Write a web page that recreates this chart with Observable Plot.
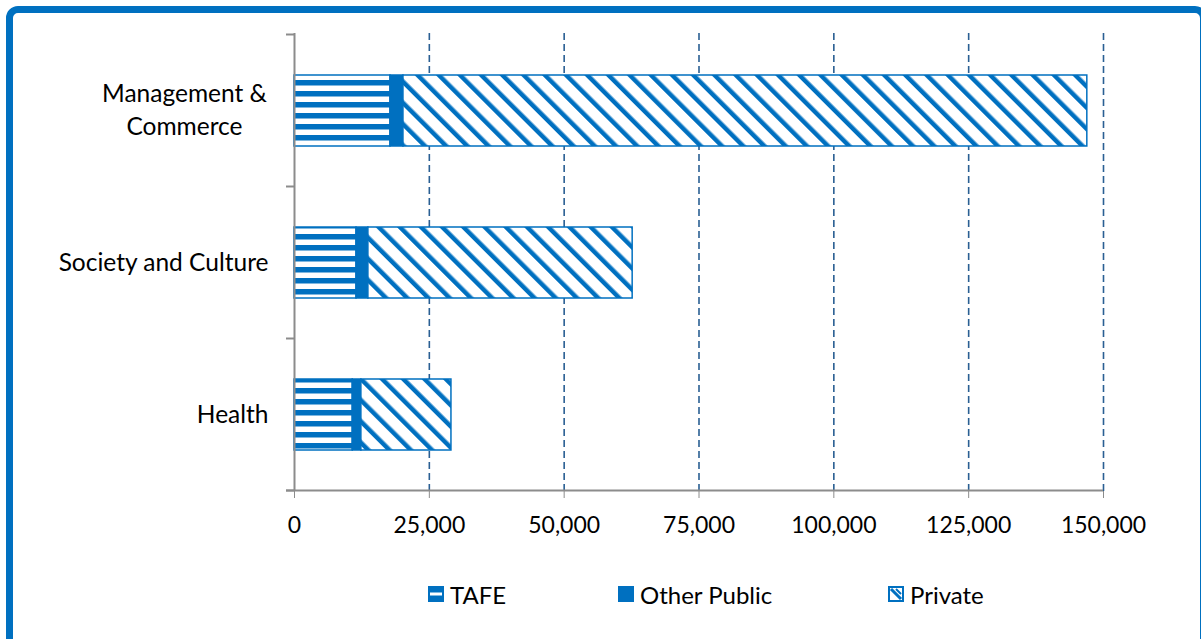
<!DOCTYPE html>
<html>
<head>
<meta charset="utf-8">
<script src="https://cdn.jsdelivr.net/npm/d3@7"></script>
<script src="https://cdn.jsdelivr.net/npm/@observablehq/plot@0.6"></script>
<style>
  html, body { margin: 0; padding: 0; background: #fff; overflow: hidden; }
  body { width: 1201px; height: 639px; position: relative; font-family: Lato, "Open Sans", sans-serif; }
  #frame { position: absolute; left: 6px; top: 6px; width: 1187px; height: 700px; border: 7px solid #0070C0; border-radius: 12px; box-sizing: content-box; }
  #chart { position: absolute; left: 0; top: 0; }
  #legend { position: absolute; left: 0; top: 577px; width: 1201px; height: 34px; font-size: 24px; color: #000; }
  .item { position: absolute; top: 0; display: flex; align-items: center; height: 34px; }
  .item svg { margin-right: 6px; }
</style>
</head>
<body>
<div id="frame"></div>
<div id="chart"></div>
<div id="legend"></div>
<script>
// ---- data ----
const categories = ["Management & Commerce", "Society and Culture", "Health"];
const series = ["TAFE", "Other Public", "Private"];
const tafe = [17800, 11500, 10800];
const otherPublic = [2400, 2200, 1600];
const privateProviders = [126800, 49000, 16700];
const xTicks = [0, 25000, 50000, 75000, 100000, 125000, 150000];

// ---- build table ----
const valuesBySeries = {"TAFE": tafe, "Other Public": otherPublic, "Private": privateProviders};
const table = [];
categories.forEach((c, i) => series.forEach(s => table.push({category: c, series: s, value: valuesBySeries[s][i]})));

const BLUE = "#0070C0";
const fills = {"TAFE": "url(#pTafe)", "Other Public": BLUE, "Private": "url(#pPriv)"};

const W = 1201, H = 560;
const mTop = 33, mBottom = H - 491, mLeft = 294, mRight = W - 1103;

const plot = Plot.plot({
  width: W,
  height: H,
  marginTop: mTop,
  marginBottom: mBottom,
  marginLeft: mLeft,
  marginRight: mRight,
  style: {fontFamily: "Lato, 'Open Sans', sans-serif", fontSize: "23px", background: "transparent", color: "#000"},
  x: {domain: [0, 150000], axis: null},
  y: {domain: categories, paddingInner: 0.535, paddingOuter: 0.2675, axis: null},
  color: {type: "identity"},
  marks: [
    Plot.ruleX(xTicks.filter(d => d > 0), {stroke: "#2a5f93", strokeWidth: 1.6, strokeDasharray: "7,4"}),
    Plot.barX(table, Plot.stackX({
      x: "value", y: "category", fill: d => fills[d.series],
      stroke: BLUE, strokeWidth: 1.5, order: series
    })),
    Plot.ruleX([0], {stroke: "#8c8c8c", strokeWidth: 2}),
    Plot.axisX({ticks: xTicks, tickFormat: d3.format(","), tickSize: 7, tickPadding: 18, stroke: "#8c8c8c", fill: "#000", fontSize: 23, anchor: "bottom", label: null}),
    Plot.text(categories.filter(c => c !== "Management & Commerce"), {
      y: d => d, text: d => d, frameAnchor: "left", textAnchor: "end", dx: -26, fill: "#000", fontSize: 24.5
    }),
    Plot.text(["Management & Commerce"], {
      y: d => d, text: () => "Management &\nCommerce", frameAnchor: "left", textAnchor: "middle", dx: -110, dy: -3, lineHeight: 1.35, fill: "#000", fontSize: 24.5
    })
  ]
});

// pattern definitions
const svg = d3.select(plot);
const defs = svg.insert("defs", ":first-child");
const pT = defs.append("pattern").attr("id", "pTafe").attr("patternUnits", "userSpaceOnUse").attr("width", 11).attr("height", 11);
pT.append("rect").attr("width", 11).attr("height", 11).attr("fill", "#fff");
pT.append("rect").attr("y", 3).attr("width", 11).attr("height", 5.5).attr("fill", BLUE);
const pP = defs.append("pattern").attr("id", "pPriv").attr("patternUnits", "userSpaceOnUse").attr("width", 15).attr("height", 15).attr("patternTransform", "rotate(-45)");
pP.append("rect").attr("width", 15).attr("height", 15).attr("fill", "#fff");
pP.append("rect").attr("x", 0).attr("width", 4.5).attr("height", 15).attr("fill", BLUE);

// axis lines and category boundary ticks using Plot's scales
const xs = plot.scale("x"), ys = plot.scale("y");
const x0 = xs.apply(0), xEnd = xs.apply(150000);
const step = ys.step, bw = ys.bandwidth;
const bounds = categories.map(c => ys.apply(c) - (step - bw) / 2);
bounds.push(ys.apply(categories[categories.length - 1]) + bw + (step - bw) / 2);
const yBottom = bounds[bounds.length - 1];
const g = svg.append("g").attr("stroke", "#8c8c8c").attr("stroke-width", 2);
g.append("line").attr("x1", x0 - 8).attr("x2", xEnd).attr("y1", yBottom).attr("y2", yBottom);
bounds.forEach(b => g.append("line").attr("x1", x0 - 8).attr("x2", x0).attr("y1", b).attr("y2", b));

document.getElementById("chart").appendChild(plot);

// legend
const legend = d3.select("#legend");
const items = [
  {name: "TAFE", left: 428},
  {name: "Other Public", left: 618},
  {name: "Private", left: 888}
];
items.forEach(it => {
  const div = legend.append("div").attr("class", "item").style("left", it.left + "px");
  const s = div.append("svg").attr("width", 16).attr("height", 16);
  if (it.name === "TAFE") {
    s.append("rect").attr("width", 16).attr("height", 16).attr("fill", BLUE);
    s.append("rect").attr("x", 2).attr("y", 6.5).attr("width", 12).attr("height", 3).attr("fill", "#fff");
  } else if (it.name === "Other Public") {
    s.append("rect").attr("width", 16).attr("height", 16).attr("fill", BLUE);
  } else {
    s.append("rect").attr("x", 1).attr("y", 1).attr("width", 14).attr("height", 14).attr("fill", "#fff").attr("stroke", BLUE).attr("stroke-width", 2);
    s.append("path").attr("d", "M3,3 L13,13").attr("stroke", BLUE).attr("stroke-width", 3);
    s.append("path").attr("d", "M8,3 L13,8").attr("stroke", BLUE).attr("stroke-width", 2);
  }
  div.append("span").text(it.name);
});
</script>
</body>
</html>
